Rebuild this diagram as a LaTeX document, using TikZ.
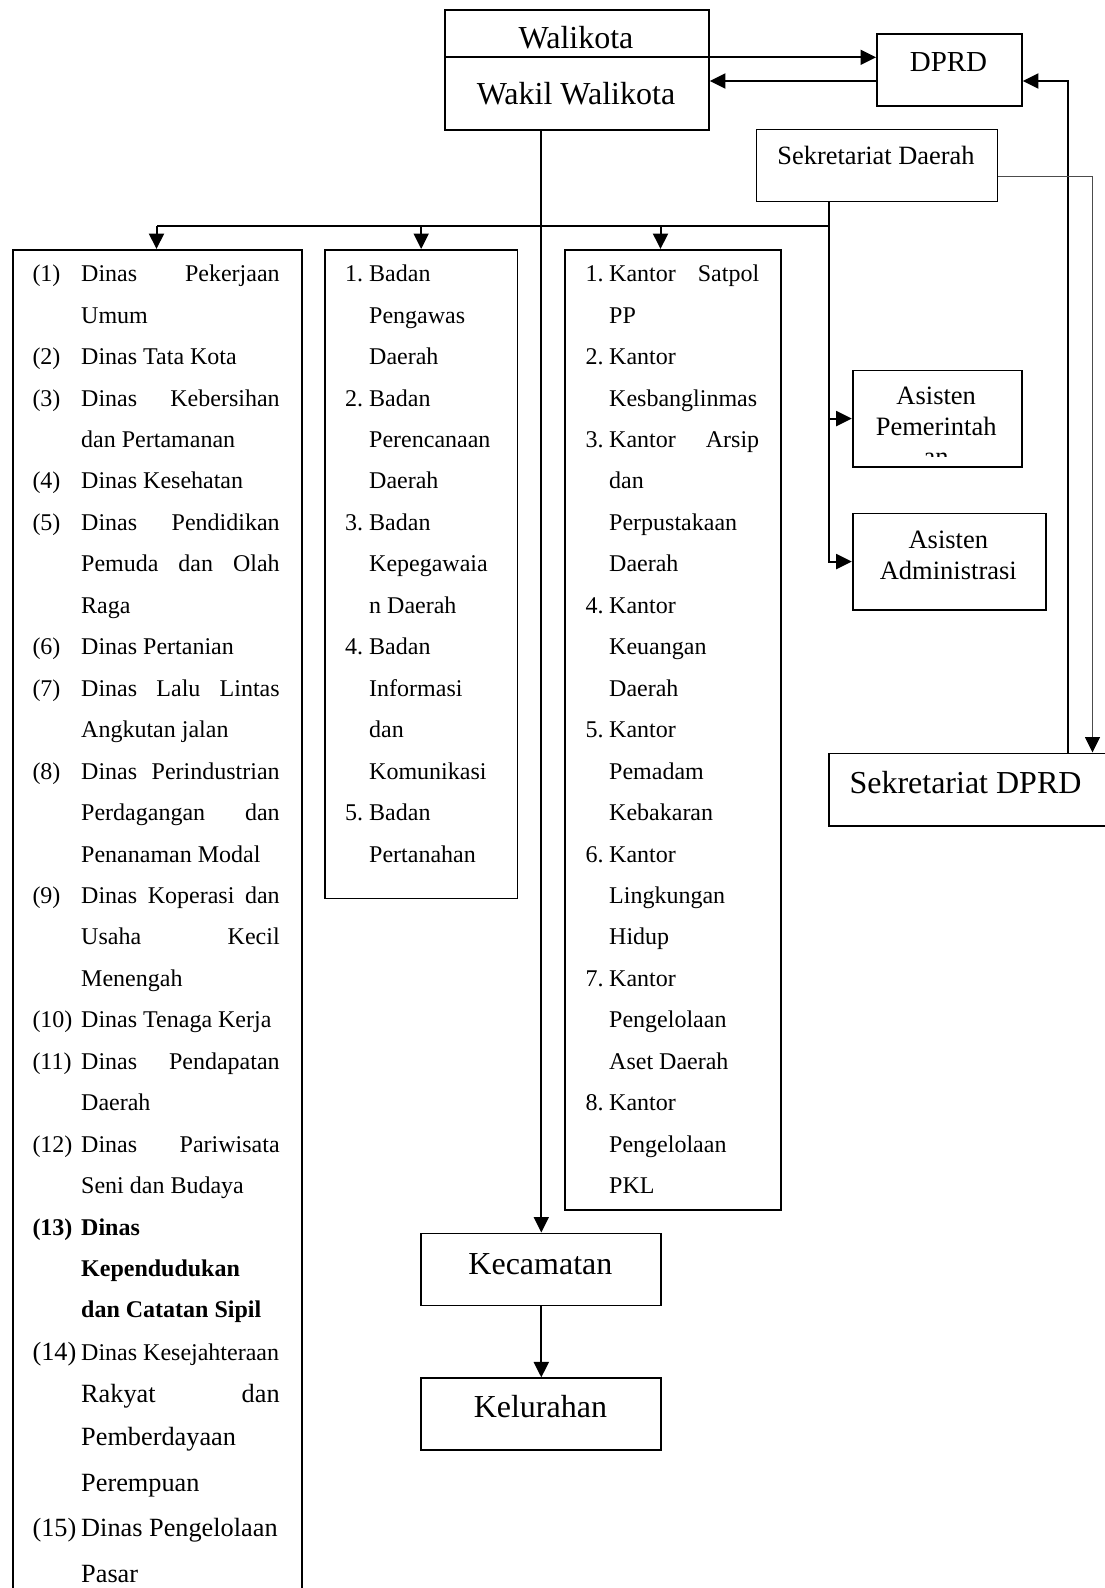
\documentclass[tikz,border=0pt]{standalone}
\usepackage{fontspec}
\setmainfont{Liberation Serif}
\usetikzlibrary{arrows.meta}

% baseline of the n-th text row in the three lists
\newcommand\rowy[1]{240.25+41.45*#1}
% a justified line of given width
\newcommand\jst[2]{\makebox[#1pt][s]{#2}}

\begin{document}
\begin{tikzpicture}[x=1pt,y=-1pt,
  box/.style={draw, line width=1.8pt, inner sep=0pt, anchor=north west},
  conn/.style={line width=2pt},
  arr/.style={conn, -{Triangle[length=15.5pt,width=15pt]}},
  thinarr/.style={line width=1pt, draw=black!70, -{Triangle[length=15.5pt,width=15pt,color=black]}},
  lbl/.style={inner sep=0pt, anchor=base},
  item/.style={inner sep=0pt, anchor=base west, font=\fontsize{24}{24}\selectfont},
  itemL/.style={item, font=\fontsize{26.3}{26.3}\selectfont},
]
\useasboundingbox (0,0) rectangle (1105,1588);
\clip (0,0) rectangle (1105,1588);

% ---------- boxes ----------
\node[box, minimum width=264pt, minimum height=120pt] (wali) at (444,9) {};
\node[box, minimum width=145pt, minimum height=72pt] (dprd) at (876,33) {};
\node[box, minimum width=241pt, minimum height=72pt] (sekda) at (755.6,128.5) {};
\node[box, minimum width=289pt, minimum height=1400pt] (dinas) at (12,249) {};
\node[box, minimum width=192.5pt, minimum height=648.5pt] (badan) at (324,249) {};
\node[box, minimum width=216pt, minimum height=960pt] (kantor) at (564,249) {};
\node[box, minimum width=169pt, minimum height=96.3pt] (asp) at (851.7,369.5) {};
\node[box, minimum width=193.3pt, minimum height=96.1pt] (asa) at (851.7,512.6) {};
\node[box, minimum width=320pt, minimum height=72.5pt] (sdprd) at (828,752.5) {};
\node[box, minimum width=240pt, minimum height=72pt] (kec) at (420.4,1232.5) {};
\node[box, minimum width=240pt, minimum height=72pt] (kel) at (420.4,1377.4) {};

% ---------- routing points ----------
\coordinate (yA) at (0,57.3);
\coordinate (yB) at (0,81);
\coordinate (yC) at (0,176.5);
\coordinate (bus) at (828.5,225.5);
\coordinate (busL) at (156.5,225.5);
\coordinate (bus3) at (660.5,225.5);
\coordinate (xR1) at (1068,0);
\coordinate (xR2) at (1092.5,0);

% ---------- connectors ----------
\draw[conn] (wali.west |- yA) -- (wali.east |- yA);
\draw[arr] (wali.east |- yA) -- (dprd.west |- yA);
\draw[arr] (dprd.west |- yB) -- (wali.east |- yB);
\draw[arr] (sdprd.north -| xR1) |- (dprd.east |- yB);
\draw[thinarr] (sekda.east |- yC) -| (sdprd.north -| xR2);
\draw[arr] (sekda.south -| bus) |- (asa.west);
\draw[arr] (bus |- asp.west) -- (asp.west);
\draw[conn] (bus) -- (busL);
\draw[arr] (busL) -- (dinas.north -| busL);
\draw[arr] (badan.north |- bus) -- (badan.north);
\draw[arr] (bus3) -- (kantor.north -| bus3);
\draw[arr] (wali.south -| kec.north) -- (kec.north);
\draw[arr] (kec.south) -- (kel.north);

% ---------- box titles ----------
\node[lbl, font=\fontsize{32}{32}\selectfont] (tWali) at (576,48.5) {Walikota};
\node[lbl, font=\fontsize{32}{32}\selectfont] (tWakil) at (576,104.3) {Wakil Walikota};
\node[lbl, font=\fontsize{29}{29}\selectfont] (tDprd) at (948.5,71) {DPRD};
\node[lbl, font=\fontsize{26.4}{26.4}\selectfont] (tSekda) at (876,164.5) {Sekretariat Daerah};
\node[lbl, anchor=base west, font=\fontsize{32}{32}\selectfont] (tSdprd) at (849.3,793.3) {Sekretariat DPRD};
\node[lbl, font=\fontsize{26.5}{26.5}\selectfont] (tAsp1) at (936.2,404.3) {Asisten};
\node[lbl, font=\fontsize{26.5}{26.5}\selectfont] (tAsp2) at (936.2,435) {Pemerintah};
\begin{scope}
  \clip (851.7,369.5) rectangle (1020.7,456.8);
  \node[lbl, font=\fontsize{26.5}{26.5}\selectfont] (tAsp3) at (936.2,465.7) {an};
\end{scope}
\node[lbl, font=\fontsize{26.5}{26.5}\selectfont] (tAsa1) at (948.3,548.3) {Asisten};
\node[lbl, font=\fontsize{26.5}{26.5}\selectfont] (tAsa2) at (948.3,579.3) {Administrasi};
\node[lbl, font=\fontsize{32}{32}\selectfont] (tKec) at (540.4,1274) {Kecamatan};
\node[lbl, font=\fontsize{32}{32}\selectfont] (tKel) at (540.4,1417) {Kelurahan};

% ---------- Dinas list ----------
\foreach \t [count=\i] in {
  {\jst{198.5}{Dinas Pekerjaan}}, Umum, Dinas Tata Kota,
  {\jst{198.5}{Dinas Kebersihan}}, dan Pertamanan, Dinas Kesehatan,
  {\jst{198.5}{Dinas Pendidikan}}, {\jst{198.5}{Pemuda dan Olah}}, Raga,
  Dinas Pertanian, {\jst{198.5}{Dinas Lalu Lintas}}, Angkutan jalan,
  {\jst{198.5}{Dinas Perindustrian}}, {\jst{198.5}{Perdagangan dan}}, Penanaman Modal,
  {\jst{198.5}{Dinas Koperasi dan}}, {\jst{198.5}{Usaha Kecil}}, Menengah,
  Dinas Tenaga Kerja, {\jst{198.5}{Dinas Pendapatan}}, Daerah,
  {\jst{198.5}{Dinas Pariwisata}}, Seni dan Budaya,
  {\bfseries Dinas}, {\bfseries Kependudukan}, {\bfseries dan Catatan Sipil}}
  \node[item] (dt\i) at (81,\rowy{\i}) {\t};
\foreach \r/\n in {1/(1),3/(2),4/(3),6/(4),7/(5),10/(6),11/(7),13/(8),16/(9),19/(10),20/(11),22/(12)}
  \node[item] (dn\r) at (32.3,\rowy{\r}) {\n};
\node[item, font=\fontsize{24}{24}\selectfont\bfseries] (dn24) at (32.3,\rowy{24}) {(13)};
\node[itemL] (dn27) at (32.3,1360.5) {(14)};
\node[item] (dt27) at (81,1360.5) {Dinas Kesejahteraan};
\node[itemL] (dt28) at (81,1402.5) {\jst{198.5}{Rakyat dan}};
\node[itemL] (dt29) at (81,1445) {Pemberdayaan};
\node[itemL] (dt30) at (81,1491) {Perempuan};
\node[itemL] (dn31) at (32.3,1536.5) {(15)};
\node[itemL] (dt31) at (81,1536.5) {Dinas Pengelolaan};
\node[itemL] (dt32) at (81,1582) {Pasar};

% ---------- Badan list ----------
\foreach \t [count=\i] in {
  Badan, Pengawas, Daerah, Badan, Perencanaan, Daerah, Badan, Kepegawaia,
  n Daerah, Badan, Informasi, dan, Komunikasi, Badan, Pertanahan}
  \node[item] (bt\i) at (369,\rowy{\i}) {\t};
\foreach \r/\n in {1/1.,4/2.,7/3.,10/4.,14/5.}
  \node[item] (bn\r) at (345,\rowy{\r}) {\n};

% ---------- Kantor list ----------
\foreach \t [count=\i] in {
  {\jst{150}{Kantor Satpol}}, PP, Kantor, Kesbanglinmas,
  {\jst{150}{Kantor Arsip}}, dan, Perpustakaan, Daerah,
  Kantor, Keuangan, Daerah, Kantor, Pemadam, Kebakaran,
  Kantor, Lingkungan, Hidup, Kantor, Pengelolaan, Aset Daerah,
  Kantor, Pengelolaan, PKL}
  \node[item] (kt\i) at (609,\rowy{\i}) {\t};
\foreach \r/\n in {1/1.,3/2.,5/3.,9/4.,12/5.,15/6.,18/7.,21/8.}
  \node[item] (kn\r) at (585.4,\rowy{\r}) {\n};
\end{tikzpicture}
\end{document}
